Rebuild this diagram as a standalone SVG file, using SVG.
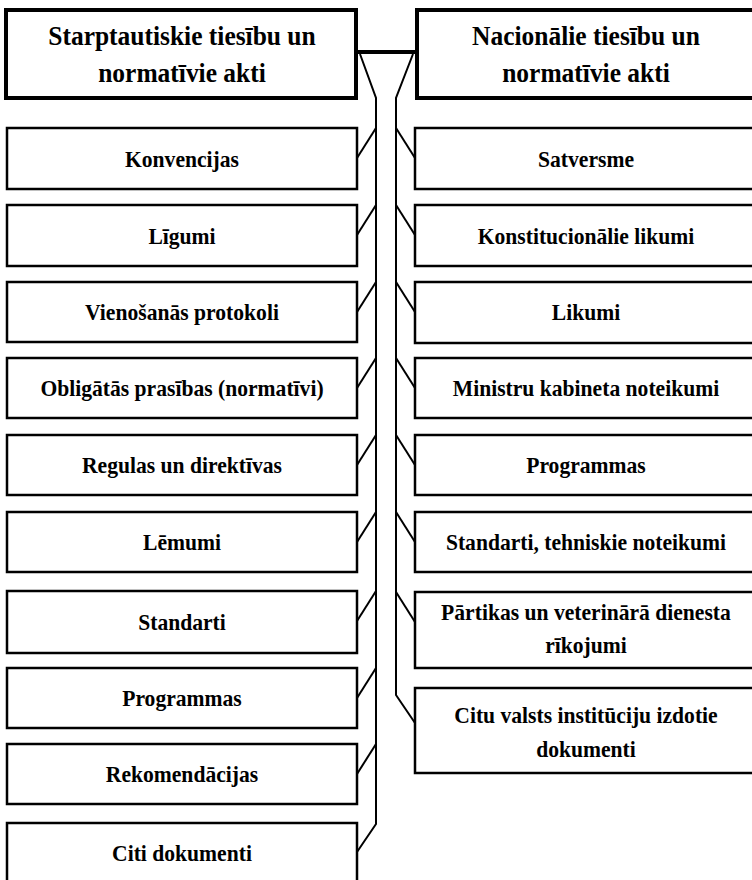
<svg xmlns="http://www.w3.org/2000/svg" width="752" height="880" viewBox="0 0 752 880">
  <style>
    .box { fill: #fff; stroke: #000; stroke-width: 2.5; }
    .head { fill: #fff; stroke: #000; stroke-width: 4; }
    text { font-family: 'Liberation Serif', 'Times New Roman', serif; font-weight: 700; fill: #000; text-anchor: middle; }
    .lbl { font-size: 24px; }
    .ttl { font-size: 28px; }
    .wire { fill: none; stroke: #000; stroke-width: 2; stroke-linejoin: miter; }
    .bar { fill: none; stroke: #000; stroke-width: 4; }
  </style>
  <rect width="752" height="880" fill="#fff"/>

  <!-- connectors: header link, two spines and branches -->
  <g id="connectors">
    <line class="bar" x1="356" y1="52" x2="417" y2="52"/>
    <polyline class="wire" points="360,54 376,98 376,824 357,852"/>
    <polyline class="wire" points="413,54 396,98 396,695 415,723"/>
    <line class="wire" x1="376" y1="128" x2="357" y2="158"/>
    <line class="wire" x1="376" y1="205" x2="357" y2="235"/>
    <line class="wire" x1="376" y1="282" x2="357" y2="312"/>
    <line class="wire" x1="376" y1="358" x2="357" y2="388"/>
    <line class="wire" x1="376" y1="435" x2="357" y2="465"/>
    <line class="wire" x1="376" y1="512" x2="357" y2="542"/>
    <line class="wire" x1="376" y1="591" x2="357" y2="621"/>
    <line class="wire" x1="376" y1="668" x2="357" y2="698"/>
    <line class="wire" x1="376" y1="744" x2="357" y2="774"/>
    <line class="wire" x1="396" y1="128" x2="415" y2="158"/>
    <line class="wire" x1="396" y1="205" x2="415" y2="235"/>
    <line class="wire" x1="396" y1="282" x2="415" y2="312"/>
    <line class="wire" x1="396" y1="358" x2="415" y2="388"/>
    <line class="wire" x1="396" y1="435" x2="415" y2="465"/>
    <line class="wire" x1="396" y1="512" x2="415" y2="542"/>
    <line class="wire" x1="396" y1="592" x2="415" y2="622"/>
  </g>

  <!-- header boxes (text narrowed around each column centre) -->
  <g id="intl-head">
    <rect class="head" x="6" y="10" width="350" height="88"/>
    <g transform="matrix(0.91 0 0 1 16.38 0)">
      <text class="ttl" x="182" y="45">Starptautiskie tiesību un</text>
      <text class="ttl" x="182" y="82">normatīvie akti</text>
    </g>
  </g>
  <g id="nat-head">
    <rect class="head" x="417" y="10" width="345" height="88"/>
    <g transform="matrix(0.91 0 0 1 52.74 0)">
      <text class="ttl" x="586" y="45">Nacionālie tiesību un</text>
      <text class="ttl" x="586" y="82">normatīvie akti</text>
    </g>
  </g>

  <!-- international column -->
  <g id="konvencijas"><rect class="box" x="7" y="128" width="350" height="61"/><text class="lbl" x="182" y="167" transform="matrix(0.9 0 0 1 18.2 0)">Konvencijas</text></g>
  <g id="ligumi"><rect class="box" x="7" y="205" width="350" height="61"/><text class="lbl" x="182" y="244" transform="matrix(0.9 0 0 1 18.2 0)">Līgumi</text></g>
  <g id="vienosanas"><rect class="box" x="7" y="282" width="350" height="60"/><text class="lbl" x="182" y="320" transform="matrix(0.9 0 0 1 18.2 0)">Vienošanās protokoli</text></g>
  <g id="obligatas"><rect class="box" x="7" y="358" width="350" height="60"/><text class="lbl" x="182" y="396" transform="matrix(0.9 0 0 1 18.2 0)">Obligātās prasības (normatīvi)</text></g>
  <g id="regulas"><rect class="box" x="7" y="435" width="350" height="60"/><text class="lbl" x="182" y="473" transform="matrix(0.9 0 0 1 18.2 0)">Regulas un direktīvas</text></g>
  <g id="lemumi"><rect class="box" x="7" y="512" width="350" height="60"/><text class="lbl" x="182" y="550" transform="matrix(0.9 0 0 1 18.2 0)">Lēmumi</text></g>
  <g id="standarti"><rect class="box" x="7" y="591" width="350" height="62"/><text class="lbl" x="182" y="630" transform="matrix(0.9 0 0 1 18.2 0)">Standarti</text></g>
  <g id="programmas-int"><rect class="box" x="7" y="668" width="350" height="60"/><text class="lbl" x="182" y="706" transform="matrix(0.9 0 0 1 18.2 0)">Programmas</text></g>
  <g id="rekomendacijas"><rect class="box" x="7" y="744" width="350" height="60"/><text class="lbl" x="182" y="782" transform="matrix(0.9 0 0 1 18.2 0)">Rekomendācijas</text></g>
  <g id="citi"><rect class="box" x="7" y="823" width="350" height="70"/><text class="lbl" x="182" y="861" transform="matrix(0.9 0 0 1 18.2 0)">Citi dokumenti</text></g>

  <!-- national column -->
  <g id="satversme"><rect class="box" x="415" y="128" width="345" height="61"/><text class="lbl" x="586" y="167" transform="matrix(0.9 0 0 1 58.6 0)">Satversme</text></g>
  <g id="konstitucionalie"><rect class="box" x="415" y="205" width="345" height="61"/><text class="lbl" x="586" y="244" transform="matrix(0.9 0 0 1 58.6 0)">Konstitucionālie likumi</text></g>
  <g id="likumi"><rect class="box" x="415" y="282" width="345" height="61"/><text class="lbl" x="586" y="320" transform="matrix(0.9 0 0 1 58.6 0)">Likumi</text></g>
  <g id="mk-noteikumi"><rect class="box" x="415" y="358" width="345" height="60"/><text class="lbl" x="586" y="396" transform="matrix(0.9 0 0 1 58.6 0)">Ministru kabineta noteikumi</text></g>
  <g id="programmas-nat"><rect class="box" x="415" y="435" width="345" height="60"/><text class="lbl" x="586" y="473" transform="matrix(0.9 0 0 1 58.6 0)">Programmas</text></g>
  <g id="standarti-nat"><rect class="box" x="415" y="512" width="345" height="60"/><text class="lbl" x="586" y="550" transform="matrix(0.9 0 0 1 58.6 0)">Standarti, tehniskie noteikumi</text></g>
  <g id="pvd"><rect class="box" x="415" y="592" width="345" height="76"/><g transform="matrix(0.9 0 0 1 58.6 0)"><text class="lbl" x="586" y="620">Pārtikas un veterinārā dienesta</text><text class="lbl" x="586" y="653">rīkojumi</text></g></g>
  <g id="citu-valsts"><rect class="box" x="415" y="688" width="345" height="85"/><g transform="matrix(0.9 0 0 1 58.6 0)"><text class="lbl" x="586" y="723">Citu valsts institūciju izdotie</text><text class="lbl" x="586" y="757">dokumenti</text></g></g>
</svg>
